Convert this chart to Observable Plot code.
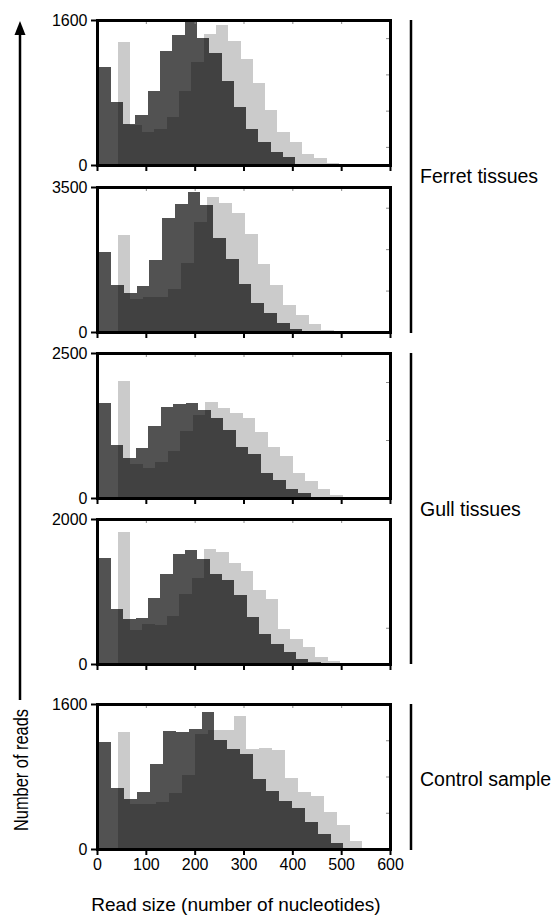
<!DOCTYPE html>
<html>
<head>
<meta charset="utf-8">
<script src="https://cdn.jsdelivr.net/npm/d3@7"></script>
<script src="https://cdn.jsdelivr.net/npm/@observablehq/plot@0.6"></script>
<style>
  body { margin: 0; background: #fff; }
  #wrap { position: relative; width: 560px; height: 924px; font-family: "Liberation Sans", Arial, sans-serif; }
  .panel { position: absolute; left: 0; }
  #overlay { position: absolute; left: 0; top: 0; pointer-events: none; }
</style>
</head>
<body>
<div id="wrap"></div>
<script>
// ---------- data ----------
const groupLabels = ["Ferret tissues", "Gull tissues", "Control sample"];
const yMax = [1600, 3500, 2500, 2000, 1600];
const innerTicks = [[200, 600, 1000, 1400], [1000, 2000, 3000], [1000, 2000], [500], [400, 800, 1200]];
const xTicks = [0, 100, 200, 300, 400, 500, 600];
const topTicks = [100, 200, 300, 400, 500];
const binWidth = [25.2, 26.1, 25.6, 25.3, 26.4];   // nucleotides per bin
const startDark = 3;    // first bin edge of the dark series
const startLight = 42;  // first bin edge of the light series

// dark series (reads per bin)
const dark1 = [1085, 696, 448, 548, 815, 1263, 1430, 1574, 1400, 1241, 926, 641, 393, 259, 141, 85, 11];
const dark2 = [1938, 1129, 940, 1120, 1734, 2740, 3091, 3369, 3067, 2273, 1758, 1169, 695, 466, 229, 82, 16];
const dark3 = [1640, 913, 686, 860, 1250, 1570, 1628, 1640, 1512, 1378, 1180, 884, 756, 424, 302, 163, 87, 17];
const dark4 = [1468, 755, 625, 639, 917, 1241, 1519, 1579, 1445, 1236, 1158, 949, 648, 407, 269, 162, 69, 23];
const dark5 = [1180, 670, 547, 633, 942, 1302, 1291, 1328, 1514, 1202, 1105, 1049, 770, 640, 528, 447, 298, 167, 63];

// light series (reads per bin)
const light1 = [1356, 437, 363, 400, 530, 815, 1141, 1441, 1548, 1363, 1170, 900, 611, 363, 252, 122, 74, 19];
const light2 = [2331, 801, 834, 834, 1039, 1676, 2658, 3255, 3108, 2862, 2372, 1636, 1145, 654, 409, 204, 57, 8];
const light3 = [2023, 593, 512, 622, 802, 1163, 1424, 1657, 1558, 1471, 1378, 1134, 884, 727, 436, 291, 163, 58];
const light4 = [1820, 472, 556, 532, 657, 972, 1181, 1583, 1542, 1389, 1287, 1019, 903, 486, 347, 231, 93, 37];
const light5 = [1295, 502, 502, 521, 621, 819, 1265, 1310, 1310, 1470, 1098, 1109, 1090, 781, 633, 584, 409, 260, 86];

const darkSeries = [dark1, dark2, dark3, dark4, dark5];
const lightSeries = [light1, light2, light3, light4, light5];

// ---------- layout ----------
const frameTops = [20, 187, 353, 519, 704];
const frameH = 145;
const mLeft = 97, frameW = 293, mRight = 14;
const font = '"Liberation Sans", Arial, sans-serif';

function bins(values, start, w) {
  return values.map((v, i) => ({x1: start + i * w, x2: start + (i + 1) * w, v}));
}

const wrap = document.getElementById("wrap");

for (let i = 0; i < 5; i++) {
  const last = i === 4;
  const mt = 10, mb = last ? 34 : 14;
  const darkRows = bins(darkSeries[i], startDark, binWidth[i]);
  const lightRows = bins(lightSeries[i], startLight, binWidth[i]);
  const chart = Plot.plot({
    width: mLeft + frameW + mRight,
    height: frameH + mt + mb,
    marginLeft: mLeft, marginRight: mRight, marginTop: mt, marginBottom: mb,
    x: {domain: [0, 600]},
    y: {domain: [0, yMax[i]]},
    style: {fontFamily: font, fontSize: "16px", background: "transparent", overflow: "visible", color: "#000"},
    marks: [
      Plot.rect(lightRows, {x1: "x1", x2: "x2", y1: () => 0, y2: "v", fill: "#cbcbcb", shapeRendering: "crispEdges"}),
      Plot.rect(darkRows, {x1: "x1", x2: "x2", y1: () => 0, y2: "v", fill: "#000", fillOpacity: 0.68, shapeRendering: "crispEdges"}),
      Plot.tickY(innerTicks[i], {y: d => d, stroke: "#8a8a8a", strokeWidth: 1, insetLeft: frameW - 4}),
      Plot.tickX(topTicks, {x: d => d, stroke: "#8a8a8a", strokeWidth: 1, insetBottom: frameH - 4}),
      Plot.frame({stroke: "#000", strokeWidth: 3}),
      Plot.axisX(xTicks, {tickSize: 6, strokeWidth: 2, tickPadding: 3, fontSize: 16, label: null,
        tickFormat: last ? (d => String(d)) : (() => "")}),
      Plot.axisY([0, yMax[i]], {tickSize: 6, strokeWidth: 2, tickPadding: 4, fontSize: 16, label: null,
        tickFormat: d => String(d)})
    ]
  });
  const div = document.createElement("div");
  div.className = "panel";
  div.style.top = (frameTops[i] - mt) + "px";
  div.appendChild(chart);
  wrap.appendChild(div);
}

// ---------- annotations: y title with arrow, x title, group brackets ----------
const ns = "http://www.w3.org/2000/svg";
const svg = document.createElementNS(ns, "svg");
svg.setAttribute("id", "overlay");
svg.setAttribute("width", 560);
svg.setAttribute("height", 924);
svg.setAttribute("font-family", font);
function el(tag, attrs, text) {
  const e = document.createElementNS(ns, tag);
  for (const k in attrs) e.setAttribute(k, attrs[k]);
  if (text) e.textContent = text;
  svg.appendChild(e);
  return e;
}
// arrow
el("line", {x1: 20, y1: 700, x2: 20, y2: 32, stroke: "#000", "stroke-width": 2.5});
el("polygon", {points: "20,21 14.5,35 25.5,35", fill: "#000"});
el("text", {transform: "translate(28,770) rotate(-90) scale(0.82,1)", "text-anchor": "middle", "font-size": 20}, "Number of reads");
el("text", {x: 236, y: 911, "text-anchor": "middle", "font-size": 19}, "Read size (number of nucleotides)");
// brackets
const brackets = [[20, 333], [353, 664], [704, 850]];
const labelY = [176, 509, 779];
brackets.forEach(([a, b], k) => {
  el("line", {x1: 411, y1: a, x2: 411, y2: b, stroke: "#000", "stroke-width": 2.5});
  el("text", {x: 420, y: labelY[k] + 7, "font-size": 19.5}, groupLabels[k]);
});
wrap.appendChild(svg);
</script>
</body>
</html>
